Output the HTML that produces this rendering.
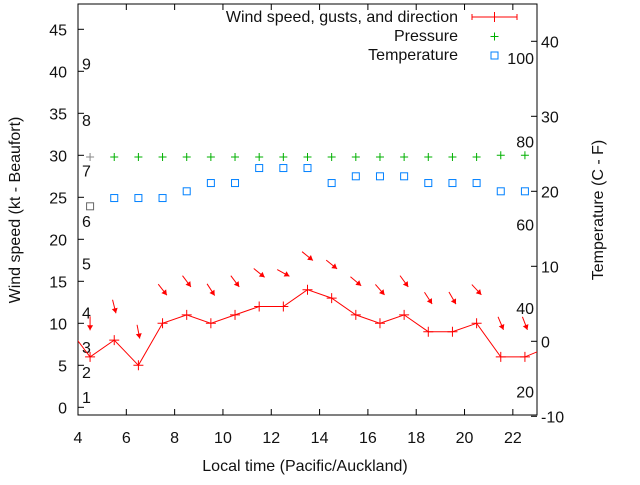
<!DOCTYPE html>
<html><head><meta charset="utf-8"><style>
body{margin:0;background:#fff;width:640px;height:480px;overflow:hidden}
svg text{font-family:"Liberation Sans",sans-serif;font-size:16px;fill:#111}
</style></head><body>
<svg id="chart" width="640" height="480" viewBox="0 0 640 480" xmlns="http://www.w3.org/2000/svg"></svg>
<script>
const times=[4.5,5.5,6.5,7.5,8.5,9.5,10.5,11.5,12.5,13.5,14.5,15.5,16.5,17.5,18.5,19.5,20.5,21.5,22.5];
const windSpeed=[6,8,5,10,11,10,11,12,12,14,13,11,10,11,9,9,10,6,6];
const gusts=[10,12,9,14,15,14,15,16,16,18,17,15,14,15,13,13,14,10,10];
const directions=[0,346,349,322,323,327,323,309,299,309,309,310,319,324,327,330,317,337,339];
const pressure=[29.8,29.8,29.8,29.8,29.8,29.8,29.8,29.8,29.8,29.8,29.8,29.8,29.8,29.8,29.8,29.8,29.8,30,30];
const temperature=[18,19.1,19.1,19.1,20,21.1,21.1,23.1,23.1,23.1,21.1,22,22,22,21.1,21.1,21.1,20,20];
const edgeTimes=[3.5,23.5];
const edgeWind=[9.8,7.2];
const xTicks=[4,6,8,10,12,14,16,18,20,22];
const yTicks=[0,5,10,15,20,25,30,35,40,45];
const y2Ticks=[-10,0,10,20,30,40];
const fLabels=[20,40,60,80,100];
const beaufortLabels=[1,2,3,4,5,6,7,8,9];
const beaufortKt=[1.2,4.2,7.2,11.3,17.1,22.2,28.2,34.2,40.9];

const L=78,R=537,T=4,B=415;
const X=t=>L+(t-4)*(R-L)/19;
const Y=v=>407.3-v*8.4;
const Y2=c=>341.3-c*7.5;
const svg=document.getElementById('chart');
const NS='http://www.w3.org/2000/svg';
function mk(tag,attrs,parent){const e=document.createElementNS(NS,tag);for(const k in attrs)e.setAttribute(k,attrs[k]);(parent||svg).appendChild(e);return e;}
function txt(x,y,s,anchor,parent){const e=mk('text',{x:x,y:y,'text-anchor':anchor||'start'},parent);e.textContent=s;return e;}

const defs=mk('defs',{});
const cp=mk('clipPath',{id:'clip'},defs);
mk('rect',{x:L,y:T,width:R-L,height:B-T},cp);

const frame=mk('rect',{x:L,y:T,width:R-L,height:B-T,fill:'none',stroke:'#000','stroke-width':1});



xTicks.forEach(t=>{
  const g=mk('g',{});
  
  
  mk('line',{x1:X(t),x2:X(t),y1:B,y2:B-6,stroke:'#000'},g);
  mk('line',{x1:X(t),x2:X(t),y1:T,y2:T+6,stroke:'#000'},g);
  txt(X(t),443,String(t),'middle',g);
});
yTicks.forEach(v=>{
  const g=mk('g',{});
  
  
  mk('line',{x1:L,x2:L+6,y1:Y(v),y2:Y(v),stroke:'#000'},g);
  txt(67,Y(v)+6,String(v),'end',g);
});
y2Ticks.forEach(c=>{
  const g=mk('g',{});
  
  
  mk('line',{x1:R,x2:R-6,y1:Y2(c),y2:Y2(c),stroke:'#000'},g);
  txt(541,Y2(c)+6,String(c),'start',g);
});
fLabels.forEach(f=>{
  const e=txt(534,Y2((f-32)*5/9)+6,String(f),'end');
  
  
});
beaufortLabels.forEach((b,i)=>{
  const e=txt(82,Y(beaufortKt[i])+6,String(b),'start');
  
  
});

const xt=txt(305,471,'Local time (Pacific/Auckland)','middle');


const yt=mk('text',{x:0,y:0,'text-anchor':'middle',transform:'translate(20,210) rotate(-90)'});
yt.textContent='Wind speed (kt - Beaufort)';


const y2t=mk('text',{x:0,y:0,'text-anchor':'middle',transform:'translate(603,210) rotate(-90)'});
y2t.textContent='Temperature (C - F)';



const plot=mk('g',{'clip-path':'url(#clip)'});



times.forEach((t,i)=>{
  const x=X(t),y=Y(pressure[i]);
  const col=i===0?'#888':'#00b000';
  const p=mk('path',{d:`M${x-4},${y}H${x+4}M${x},${y-4}V${y+4}`,stroke:col,'stroke-width':1},plot);
  
  
});
times.forEach((t,i)=>{
  const x=X(t),y=Y2(temperature[i]);
  const col=i===0?'#666':'#0080ff';
  const r=mk('rect',{x:x-3.5,y:y-3.5,width:7,height:7,fill:'none',stroke:col,'stroke-width':1},plot);
  
  
});
const pts=[[edgeTimes[0],edgeWind[0]]].concat(times.map((t,i)=>[t,windSpeed[i]])).concat([[edgeTimes[1],edgeWind[1]]]);
const wl=mk('polyline',{points:pts.map(p=>X(p[0])+','+Y(p[1])).join(' '),fill:'none',stroke:'#f00','stroke-width':1},plot);


times.forEach((t,i)=>{
  const x=X(t),y=Y(windSpeed[i]);
  const p=mk('path',{d:`M${x-5},${y}H${x+5}M${x},${y-5}V${y+5}`,stroke:'#f00','stroke-width':1},plot);
  
  
});
times.forEach((t,i)=>{
  const cx=X(t),cy=Y(gusts[i]);
  const a=directions[i]*Math.PI/180,Ln=14;
  const dx=-Math.sin(a),dy=Math.cos(a);
  const x1=cx-dx*Ln/2,y1=cy-dy*Ln/2,x2=cx+dx*Ln/2,y2=cy+dy*Ln/2;
  const px=-dy,py=dx;
  const g=mk('g',{},plot);
  
  
  mk('line',{x1:x1,y1:y1,x2:x2,y2:y2,stroke:'#f00','stroke-width':1},g);
  const bx=x2-dx*5,by=y2-dy*5;
  mk('polygon',{points:`${x2},${y2} ${bx+px*3},${by+py*3} ${bx-px*3},${by-py*3}`,fill:'#f00'},g);
});

const lg=mk('g',{});


const e1=txt(458,22,'Wind speed, gusts, and direction','end',lg);


mk('path',{d:'M472,17H517M472,14V20M517,14V20M494.5,12V22',stroke:'#f00','stroke-width':1},lg);
const e2=txt(458,41,'Pressure','end',lg);


mk('path',{d:'M490.5,36.5H498.5M494.5,32.5V40.5',stroke:'#00b000','stroke-width':1},lg);
const e3=txt(458,60,'Temperature','end',lg);


mk('rect',{x:491,y:52,width:7,height:7,fill:'none',stroke:'#0080ff','stroke-width':1},lg);
</script>
</body></html>
